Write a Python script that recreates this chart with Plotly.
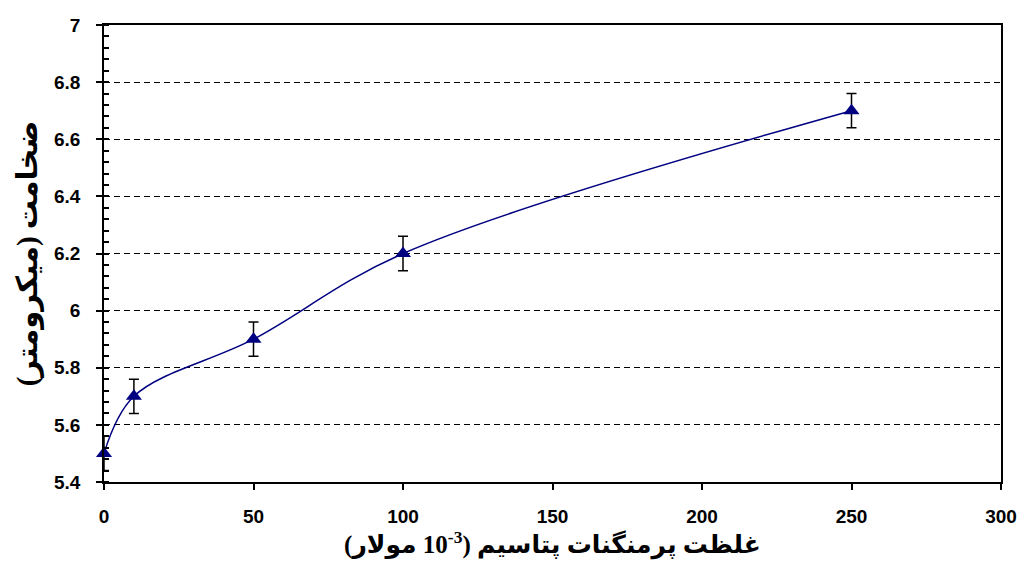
import plotly.graph_objects as go

conc = [0, 10, 50, 100, 250]
thickness = [5.5, 5.7, 5.9, 6.2, 6.7]
err = [0.06, 0.06, 0.06, 0.06, 0.06]

x_ticks = [0, 50, 100, 150, 200, 250, 300]
y_ticks = [5.4, 5.6, 5.8, 6.0, 6.2, 6.4, 6.6, 6.8, 7.0]
y_tick_text = ["5.4", "5.6", "5.8", "6", "6.2", "6.4", "6.6", "6.8", "7"]

RLE, PDF, LRM = "\u202b", "\u202c", "\u200e"
x_title = RLE + "غلظت پرمنگنات پتاسیم (" + LRM + "10<sup>-3</sup>" + LRM + " مولار)" + PDF
y_title = RLE + "ضخامت (میکرومتر)" + PDF

navy = "#000080"

fig = go.Figure()
fig.add_trace(go.Scatter(
    x=conc, y=thickness, mode="lines",
    line=dict(color=navy, width=1.5, shape="spline", smoothing=1.0),
    hoverinfo="skip", showlegend=False))
fig.add_trace(go.Scatter(
    x=conc, y=thickness, mode="markers",
    marker=dict(symbol="triangle-up", size=14, color=navy),
    error_y=dict(type="data", array=err, visible=True, color="black", thickness=1.5, width=5),
    showlegend=False, cliponaxis=False))

tickfont = dict(family="Liberation Sans, Arial", size=19, color="black")
fig.update_layout(
    width=1029, height=576,
    margin=dict(l=104, r=19, t=25, b=94),
    paper_bgcolor="white", plot_bgcolor="white",
    xaxis=dict(range=[0, 300], tickvals=x_ticks, ticktext=["<b>%d</b>" % v for v in x_ticks],
               showgrid=False, zeroline=False, showline=True, linecolor="black", linewidth=1.5,
               mirror=True, ticks="outside", ticklen=6, tickcolor="black", tickwidth=1.5,
               tickfont=tickfont, ticklabelstandoff=10,
               title=dict(text="<b>" + x_title + "</b>", standoff=2,
                          font=dict(family="Liberation Serif, DejaVu Sans", size=25, color="black"))),
    yaxis=dict(range=[5.4, 7.0], tickvals=y_ticks, ticktext=["<b>%s</b>" % t for t in y_tick_text],
               showgrid=True, gridcolor="black", griddash="6px,4px", gridwidth=1,
               zeroline=False, showline=True, linecolor="black", linewidth=1.5,
               mirror=True, ticks="outside", ticklen=6, tickcolor="black", tickwidth=1.5,
               tickfont=tickfont, ticklabelstandoff=12,
               minor=dict(dtick=0.04, tick0=5.4, ticks="inside", ticklen=5, tickcolor="black",
                          tickwidth=1.5, showgrid=False),
               title=dict(text="<b>" + y_title + "</b>", standoff=8,
                          font=dict(family="Liberation Serif, DejaVu Sans", size=29, color="black"))),
)

fig.write_html("out.html")
